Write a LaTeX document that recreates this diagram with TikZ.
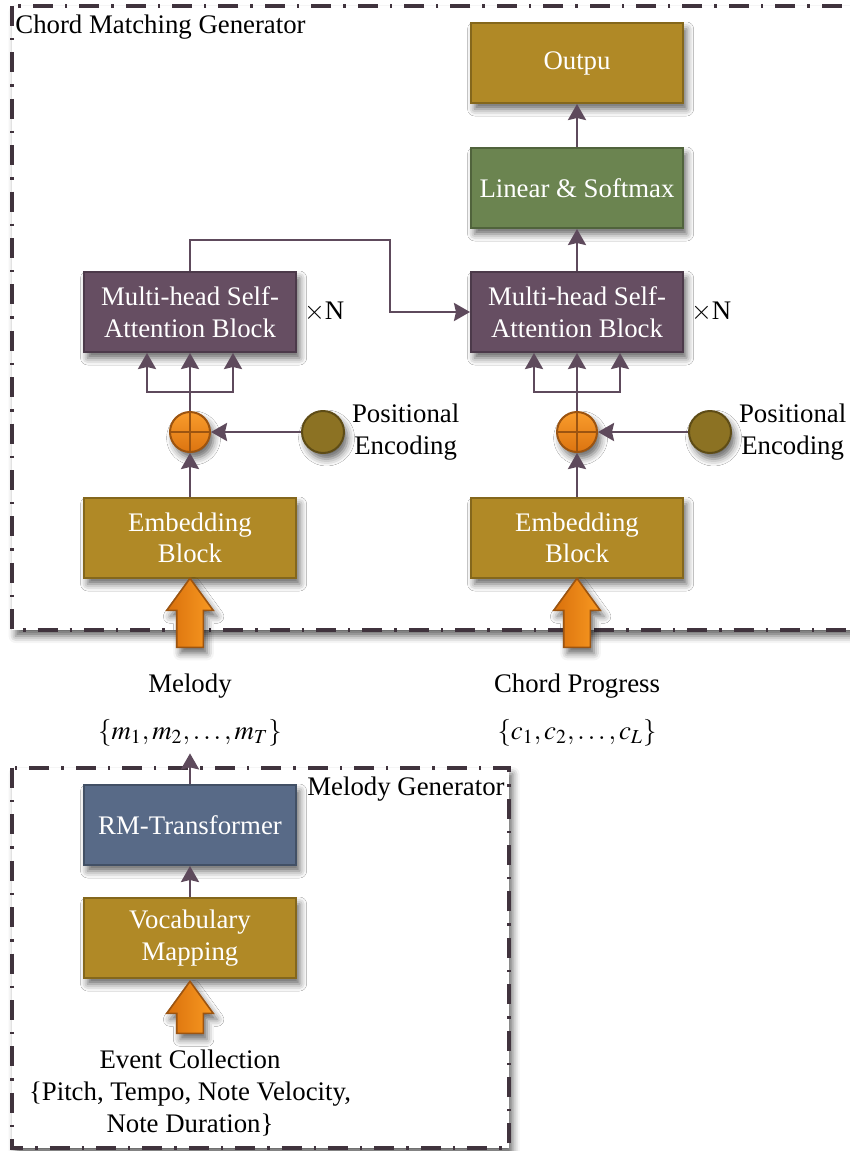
\documentclass[tikz,border=0pt]{standalone}
\usepackage{mathptmx}
\usepackage{fontspec}
\setmainfont{Liberation Serif}
\usetikzlibrary{arrows.meta, positioning, shapes.arrows, shadows.blur}
\definecolor{embc}{HTML}{B08926}
\definecolor{attc}{HTML}{664E62}
\definecolor{linc}{HTML}{6B8450}
\definecolor{rmc}{HTML}{586A87}
\definecolor{linec}{HTML}{5E4A5C}
\definecolor{framec}{HTML}{40333D}
\definecolor{sumtop}{HTML}{F99C2C}
\definecolor{sumbot}{HTML}{DC7410}
\definecolor{sumedge}{HTML}{9C5410}
\definecolor{pefill}{HTML}{8C7223}
\definecolor{peedge}{HTML}{5E4C16}
\definecolor{arrdark}{HTML}{D9700C}
\definecolor{arrlight}{HTML}{F99A22}

\begin{document}
\begin{tikzpicture}[
  x=0.5pt, y=-0.5pt,
  font=\fontsize{13.4}{15.8}\selectfont,
  shad/.style={blur shadow={shadow xshift=1.8pt, shadow yshift=-3pt,
                            shadow blur radius=3.5pt, shadow opacity=60}},
  blk/.style={draw=#1!75!black, fill=#1, line width=1pt, shad,
              minimum width=106pt, minimum height=40pt,
              text=white, align=center},
  sumc/.style={circle, minimum size=20pt, inner sep=0pt, line width=1pt,
               draw=sumedge, top color=sumtop, bottom color=sumbot, shad,
               path picture={\draw[sumedge, line width=1pt]
                 (path picture bounding box.north) -- (path picture bounding box.south)
                 (path picture bounding box.west) -- (path picture bounding box.east);}},
  pec/.style={circle, minimum size=21pt, inner sep=0pt, line width=1pt,
              draw=peedge, fill=pefill, shad},
  bigarr/.style={single arrow, shape border rotate=90, inner sep=6.25pt,
                 minimum height=#1, minimum width=22.5pt, anchor=tip,
                 single arrow head extend=5pt, single arrow tip angle=72,
                 draw=sumedge, line width=0.8pt,
                 left color=arrdark, right color=arrlight, shad},
  bigarr/.default=34.5pt,
  frame/.style={draw=framec, line width=1.6pt, fill=white,
                dash pattern=on 10pt off 6pt on 1.2pt off 6pt, shad},
  arr/.style={-{Stealth[length=8pt, width=9pt, inset=1pt]},
              line width=1.3pt, draw=linec}
]
  \useasboundingbox (0,0) rectangle (850,1151);

  % frames
  \draw[frame] (12,6) rectangle (870,630);
  \node[anchor=north west, inner sep=0pt] (cmglbl) at (15,15) {Chord Matching Generator};
  \draw[frame] (12,768) rectangle (509,1148);
  \node[anchor=north east, inner sep=0pt] (mglbl) at (505,776) {Melody Generator};

  % melody branch of the matcher
  \node[blk=embc] (emb1) at (190,538) {Embedding\\Block};
  \node[sumc] (sum1) at (190,432) {};
  \node[pec, right=45pt of sum1] (pe1) {};
  \node[right=0pt of pe1, align=center] (pel1) {Positional\\Encoding};
  \node[blk=attc] (att1) at (190,312) {Multi-head Self-\\Attention Block};
  \node[right=0pt of att1] (n1) {$\times$N};
  \node[bigarr] (ba1) at (190,577) {};

  % chord branch of the matcher
  \node[blk=embc] (emb2) at (577,538) {Embedding\\Block};
  \node[sumc] (sum2) at (577,432) {};
  \node[pec, right=45pt of sum2] (pe2) {};
  \node[right=0pt of pe2, align=center] (pel2) {Positional\\Encoding};
  \node[blk=attc] (att2) at (577,312) {Multi-head Self-\\Attention Block};
  \node[right=0pt of att2] (n2) {$\times$N};
  \node[blk=linc] (lin) at (577,188) {Linear \& Softmax};
  \node[blk=embc] (out) at (577,63) {Outpu};
  \node[bigarr] (ba2) at (577,577) {};

  % inputs
  \node (mel) at (190,686) {Melody};
  \node (mset) at (190,733) {$\{m_1,m_2,\ldots,m_T\}$};
  \node (chd) at (577,686) {Chord Progress};
  \node (cset) at (577,733) {$\{c_1,c_2,\ldots,c_L\}$};

  % melody generator
  \node[blk=rmc] (rm) at (190,825) {RM-Transformer};
  \node[blk=embc] (voc) at (190,938) {Vocabulary\\Mapping};
  \node[bigarr=26pt] (ba3) at (190,980) {};
  \node[align=center] (evt) at (190,1093)
    {Event Collection\\\{Pitch, Tempo, Note Velocity,\\Note Duration\}};

  % connectors
  \coordinate (fk1) at (190,392);
  \coordinate (fk2) at (577,392);
  \coordinate (jn) at (390,240);
  \draw[arr] (emb1) -- (sum1);
  \draw[arr] (pe1) -- (sum1);
  \draw[arr] (sum1) -- (att1);
  \draw[arr] (fk1) -| ([xshift=-21.5pt]att1.south);
  \draw[arr] (fk1) -| ([xshift=21.5pt]att1.south);
  \draw[arr] (emb2) -- (sum2);
  \draw[arr] (pe2) -- (sum2);
  \draw[arr] (sum2) -- (att2);
  \draw[arr] (fk2) -| ([xshift=-21.5pt]att2.south);
  \draw[arr] (fk2) -| ([xshift=21.5pt]att2.south);
  \draw[arr] (att1.north) |- (jn) |- (att2.west);
  \draw[arr] (att2) -- (lin);
  \draw[arr] (lin) -- (out);
  \draw[arr] (voc) -- (rm);
  \draw[arr] (rm) -- (mset);
\end{tikzpicture}
\end{document}
